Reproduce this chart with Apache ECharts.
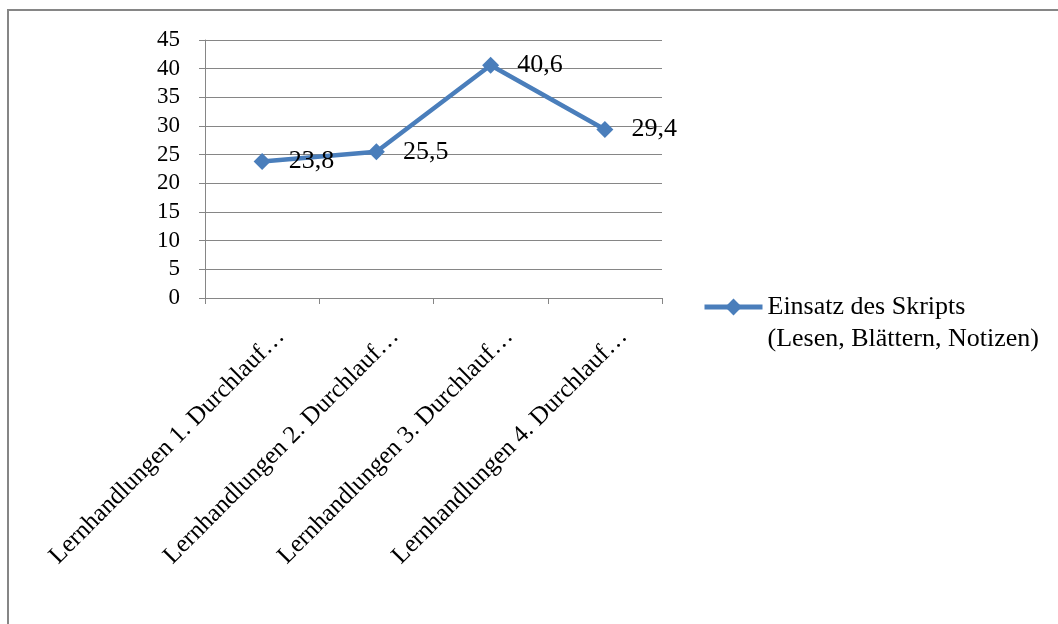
<!DOCTYPE html>
<html>
<head>
<meta charset="utf-8">
<script src="https://cdn.jsdelivr.net/npm/echarts@6/dist/echarts.min.js"></script>
<style>
  html, body { margin: 0; padding: 0; background: #ffffff; }
  #chart { width: 1058px; height: 624px; }
</style>
</head>
<body>
<div id="chart"></div>
<script>
// Categories along the x axis
const categories = [
  'Lernhandlungen 1. Durchlauf…',
  'Lernhandlungen 2. Durchlauf…',
  'Lernhandlungen 3. Durchlauf…',
  'Lernhandlungen 4. Durchlauf…'
];
// Values of the single series
const seriesName = 'Einsatz des Skripts (Lesen, Blättern, Notizen)';
const skriptValues = [23.8, 25.5, 40.6, 29.4];
// Value axis range
const yMin = 0, yMax = 45, yStep = 5;

const serif = '"Liberation Serif", "DejaVu Serif", serif';
const gray = '#868686';
const blue = '#4a7ebb';

const chart = echarts.init(document.getElementById('chart'), null, { renderer: 'canvas' });
chart.setOption({
  backgroundColor: '#ffffff',
  animation: false,
  graphic: [{
    type: 'polyline',
    shape: { points: [[8, 624], [8, 10], [1058, 10]] },
    style: { stroke: gray, lineWidth: 2, fill: null },
    silent: true
  }],
  grid: { left: 205, right: 396, top: 40, bottom: 326, containLabel: false },
  legend: {
    left: 697,
    top: 254,
    orient: 'vertical',
    itemWidth: 58,
    itemHeight: 21,
    lineStyle: { width: 5 },
    // leading blank line keeps the first text line level with the icon
    formatter: (name) => '\n' + name.replace(' (', '\n('),
    textStyle: {
      fontFamily: serif,
      fontSize: 26,
      lineHeight: 32,
      color: '#000'
    },
    data: [seriesName]
  },
  xAxis: {
    type: 'category',
    data: categories,
    boundaryGap: true,
    axisLine: { lineStyle: { color: gray, width: 1 } },
    axisTick: { show: true, length: 6, lineStyle: { color: gray } },
    axisLabel: {
      interval: 0,
      rotate: 45,
      margin: 16,
      verticalAlign: 'top',
      padding: [14, 0, 0, 0],
      fontFamily: serif,
      fontSize: 25,
      color: '#000'
    }
  },
  yAxis: {
    type: 'value',
    min: yMin,
    max: yMax,
    interval: yStep,
    axisLine: { show: true, lineStyle: { color: gray, width: 1 } },
    axisTick: { show: true, length: 6, lineStyle: { color: gray } },
    splitLine: { show: true, lineStyle: { color: gray, width: 1 } },
    axisLabel: {
      margin: 25,
      fontFamily: serif,
      fontSize: 23,
      color: '#000'
    }
  },
  series: [{
    name: seriesName,
    type: 'line',
    data: skriptValues,
    symbol: 'diamond',
    symbolSize: 17,
    showAllSymbol: true,
    lineStyle: { color: blue, width: 4.5 },
    itemStyle: { color: blue },
    label: {
      show: true,
      position: 'right',
      distance: 18,
      fontFamily: serif,
      fontSize: 26,
      color: '#000',
      formatter: (p) => String(p.value).replace('.', ',')
    },
    z: 3
  }]
});
</script>
</body>
</html>
